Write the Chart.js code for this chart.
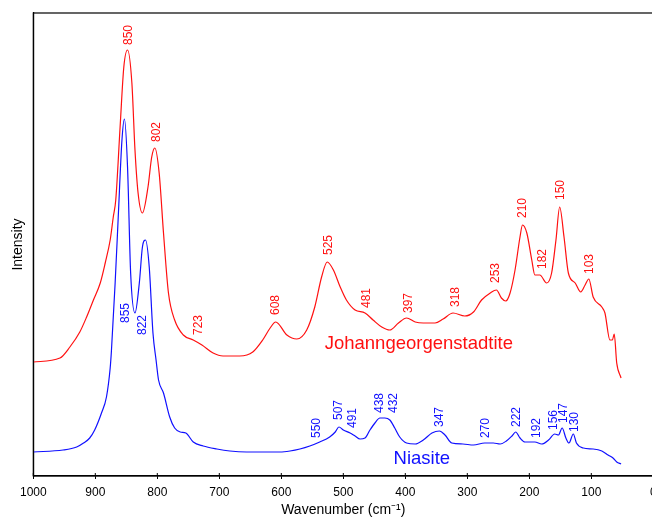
<!DOCTYPE html>
<html>
<head>
<meta charset="utf-8">
<script src="https://cdn.jsdelivr.net/npm/chart.js@4.4.0/dist/chart.umd.min.js"></script>
<style>
  html, body { margin: 0; padding: 0; background: #fff; }
  #wrap { position: absolute; left: 0; top: 0; width: 652px; height: 519px; overflow: hidden; }
  #wrap canvas { position: absolute; left: 0; top: 0; }
</style>
</head>
<body>
<div id="wrap"><canvas id="chart" width="690" height="519" style="width:690px;height:519px"></canvas></div>
<script>
// Spectre Johanngeorgenstadtite (rouge)
const wnRed = [1000, 957, 941, 925, 914, 903, 892, 884, 876, 871, 867, 860, 854, 848, 841, 836, 831, 824, 815, 809, 804, 797, 790, 782,
  772, 758, 742, 728, 710, 694, 667, 646, 630, 618, 609, 591, 575, 559, 546, 535, 526, 516, 505, 495,
  481, 465, 452, 438, 425, 411, 398, 384, 371, 352, 339, 323, 304, 290, 277, 263, 253, 245, 238, 231,
  223, 215, 211, 204, 196, 191, 183, 172, 164, 157, 151, 144, 137, 126, 117, 110, 104, 97, 83, 78,
  70, 66, 63, 59, 52];
const intRed = [114, 118, 129, 144, 159, 176, 193, 213, 236, 259, 276, 349, 409, 426, 393, 326, 283, 263, 289, 319, 328, 303, 243, 183,
  156, 141, 136, 131, 123, 120, 120, 124, 136, 148, 154, 141, 137, 146, 169, 199, 214, 206, 189, 176,
  166, 163, 156, 149, 146, 153, 158, 154, 153, 153, 157, 163, 160, 164, 176, 183, 186, 178, 175, 183,
  206, 239, 251, 243, 216, 201, 201, 193, 203, 236, 269, 239, 203, 193, 184, 191, 197, 179, 169, 163,
  136, 136, 142, 113, 98];

// Spectre Niasite (bleu)
const wnBlue = [1000, 952, 930, 919, 909, 901, 890, 882, 876, 874, 868, 863, 857, 853, 848, 843, 836, 829, 824, 819,
  813, 807, 802, 798, 790, 780, 772, 763, 754, 742, 726, 704, 683, 656, 629, 602, 586, 570, 554, 538,
  522, 513, 507, 500, 489, 481, 473, 465, 457, 449, 441, 433, 425, 417, 409, 398, 384, 371, 357, 345,
  336, 325, 307, 290, 272, 258, 247, 237, 228, 222, 215, 207, 191, 180, 169, 159, 153, 147, 141, 136,
  129, 124, 113, 97, 83, 73, 65, 59, 52];
const intBlue = [24, 26, 29, 33, 38, 46, 63, 79, 108, 125, 193, 259, 336, 357, 309, 203, 163, 193, 229, 236,
  209, 143, 116, 96, 83, 59, 48, 44, 43, 34, 30, 27, 25, 24, 24, 24, 25, 27, 30, 34,
  39, 44, 49, 46, 43, 40, 37, 38, 46, 53, 58, 58, 56, 48, 39, 33, 32, 36, 43, 45,
  41, 33, 32, 31, 33, 33, 32, 35, 40, 44, 38, 34, 34, 32, 36, 42, 41, 48, 38, 33,
  42, 33, 28, 27, 25, 21, 18, 14, 12];

// Etiquettes des pics
const redPeaks = ['850', '802', '723', '608', '525', '481', '397', '318', '253', '210', '182', '150', '103'];
const redPeakX = [846, 801, 733, 609, 523, 463, 395, 318, 255, 211, 178, 149, 103];
const redPeakY = [431, 334, 141, 161, 221, 168, 163, 169, 193, 258, 207, 276, 202];

const bluePeaks = ['855', '822', '550', '507', '491', '438', '432', '347', '270', '222', '192', '156', '147', '130'];
const bluePeakX = [851, 823, 543, 507, 485, 442, 419, 344, 270, 220, 188, 161, 145, 126];
const bluePeakY = [153, 141, 38, 56, 48, 63, 63, 49, 38, 49, 38, 46, 53, 44];

const RED = '#ff1010';
const BLUE = '#1010ff';
const FONT = '"Liberation Sans", Arial, sans-serif';

// Cadre + petites graduations internes
const framePlugin = {
  id: 'frame',
  afterDraw(chart) {
    const { ctx, chartArea: a, scales } = chart;
    ctx.save();
    ctx.strokeStyle = '#000';
    ctx.lineWidth = 1.2;
    ctx.strokeRect(a.left, a.top, a.right - a.left, a.bottom - a.top);
    ctx.lineWidth = 1;
    scales.x.ticks.forEach(t => {
      const px = scales.x.getPixelForValue(t.value);
      ctx.beginPath();
      ctx.moveTo(px, a.bottom);
      ctx.lineTo(px, a.bottom - 3);
      ctx.stroke();
    });
    ctx.restore();
  }
};

// Textes : noms des minéraux et positions des pics
const labelPlugin = {
  id: 'peakLabels',
  afterDatasetsDraw(chart) {
    const { ctx, scales } = chart;
    const x = scales.x, y = scales.y;
    ctx.save();
    ctx.font = '12px ' + FONT;
    ctx.textAlign = 'left';
    ctx.textBaseline = 'middle';
    const drawSet = (labels, xs, ys, color) => {
      ctx.fillStyle = color;
      labels.forEach((txt, i) => {
        ctx.save();
        ctx.translate(x.getPixelForValue(xs[i]), y.getPixelForValue(ys[i]));
        ctx.rotate(-Math.PI / 2);
        ctx.fillText(txt, 0, 0);
        ctx.restore();
      });
    };
    drawSet(redPeaks, redPeakX, redPeakY, RED);
    drawSet(bluePeaks, bluePeakX, bluePeakY, BLUE);

    ctx.font = '18.5px ' + FONT;
    ctx.fillStyle = RED;
    ctx.fillText('Johanngeorgenstadtite', x.getPixelForValue(530), y.getPixelForValue(132));
    ctx.fillStyle = BLUE;
    ctx.fillText('Niasite', x.getPixelForValue(419), y.getPixelForValue(17));
    ctx.restore();
  }
};

const toPoints = (xs, ys) => xs.map((v, i) => ({ x: v, y: ys[i] }));

new Chart(document.getElementById('chart'), {
  type: 'line',
  data: {
    datasets: [
      { label: 'Johanngeorgenstadtite', data: toPoints(wnRed, intRed), borderColor: RED, borderWidth: 1.2,
        pointRadius: 0, cubicInterpolationMode: 'monotone', fill: false },
      { label: 'Niasite', data: toPoints(wnBlue, intBlue), borderColor: BLUE, borderWidth: 1.2,
        pointRadius: 0, cubicInterpolationMode: 'monotone', fill: false }
    ]
  },
  options: {
    responsive: false,
    animation: false,
    layout: { padding: { top: 13, right: 690 - 653.3, left: 0, bottom: 0 } },
    plugins: { legend: { display: false }, tooltip: { enabled: false } },
    scales: {
      x: {
        type: 'linear',
        reverse: true,
        min: 0,
        max: 1000,
        ticks: { stepSize: 100, color: '#000', font: { size: 12, family: FONT }, padding: 6, maxRotation: 0,
          callback: v => String(v) },
        grid: { drawOnChartArea: false, drawTicks: true, tickLength: 3, color: '#000' },
        border: { display: true, color: '#000', width: 1.2 },
        title: { display: true, text: 'Wavenumber (cm⁻¹)', color: '#000', font: { size: 14, family: FONT }, padding: { top: 1, bottom: 0 } },
        afterFit(scale) { scale.height = 519 - 476; }
      },
      y: {
        min: 0,
        max: 463,
        ticks: { display: false },
        grid: { display: false, drawTicks: false },
        border: { display: true, color: '#000', width: 1.2 },
        title: { display: true, text: 'Intensity', color: '#000', font: { size: 14, family: FONT }, padding: { top: 10, bottom: 0 } },
        afterFit(scale) { scale.width = 33.3; }
      }
    }
  },
  plugins: [framePlugin, labelPlugin]
});
</script>
</body>
</html>
